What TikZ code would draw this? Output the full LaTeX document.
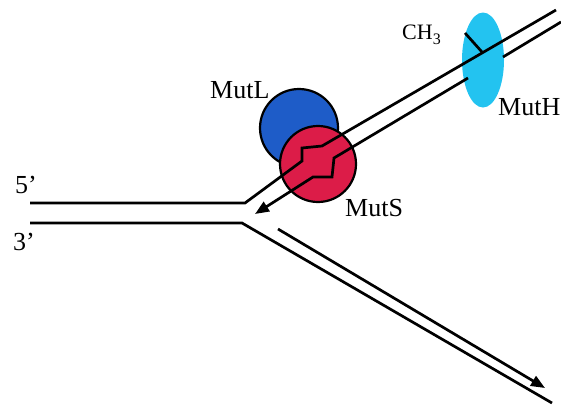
\documentclass[tikz,border=0pt]{standalone}
\usepackage{fontspec}
\setmainfont{Liberation Serif}
\usetikzlibrary{arrows.meta,shapes.geometric}
\definecolor{mutlblue}{RGB}{30,92,200}
\definecolor{mutsred}{RGB}{220,28,72}
\definecolor{muthcyan}{RGB}{35,195,240}
\tikzset{
  strand/.style={line width=2.7pt, black, line join=miter},
  prot/.style={draw=black, line width=2.2pt},
  lab/.style={inner sep=0pt, anchor=base west, font=\fontsize{26}{28}\selectfont},
  arr/.style={-{Triangle[length=14pt,width=11pt]}}
}
\begin{document}
\begin{tikzpicture}[x=1pt,y=-1pt]
\useasboundingbox (0,0) rectangle (561,405);
% proteins
\node[prot, fill=mutlblue, circle, minimum size=78pt, inner sep=0pt] (mutl) at (299,128) {};
\node[prot, fill=mutsred, circle, minimum size=76pt, inner sep=0pt] (muts) at (318,164) {};
\node[fill=muthcyan, ellipse, minimum width=42pt, minimum height=95pt, inner sep=0pt] (muth) at (483,60) {};
% named points of the strands
\coordinate (t0) at (30,203);
\coordinate (t1) at (245,203);
\coordinate (t2) at (302,161);
\coordinate (t3) at (302,148);
\coordinate (t4) at (322,146);
\coordinate (t5) at (556,10);
\coordinate (n0) at (468,78);
\coordinate (n1) at (334,158);
\coordinate (n2) at (332,177);
\coordinate (n3) at (313,177);
\coordinate (n4) at (255,214);
\coordinate (m0) at (503,57);
\coordinate (m1) at (561,22);
\coordinate (b0) at (30,223);
\coordinate (b1) at (242,223);
\coordinate (b2) at (552,403);
\coordinate (c0) at (278,229);
\coordinate (c1) at (545,388);
\coordinate (h0) at (465,33);
\coordinate (h1) at (482,52);
% strands
\draw[strand] (t0) -- (t1) -- (t2) -- (t3) -- (t4) -- (t5);
\draw[strand, arr] (n0) -- (n1) -- (n2) -- (n3) -- (n4);
\draw[strand] (m0) -- (m1);
\draw[strand] (b0) -- (b1) -- (b2);
\draw[strand, arr] (c0) -- (c1);
\draw[strand] (h0) -- (h1);
% labels
\node[lab] (l5) at (15,193) {5’};
\node[lab] (l3) at (13,250) {3’};
\node[lab] (lL) at (210,98) {MutL};
\node[lab] (lS) at (345,216) {MutS};
\node[lab] (lH) at (498,115) {MutH};
\node[inner sep=0pt, anchor=base west, font=\fontsize{22}{24}\selectfont] (lC) at (402,39) {CH\raisebox{-5pt}{\fontsize{16}{16}\selectfont 3}};
\end{tikzpicture}
\end{document}
